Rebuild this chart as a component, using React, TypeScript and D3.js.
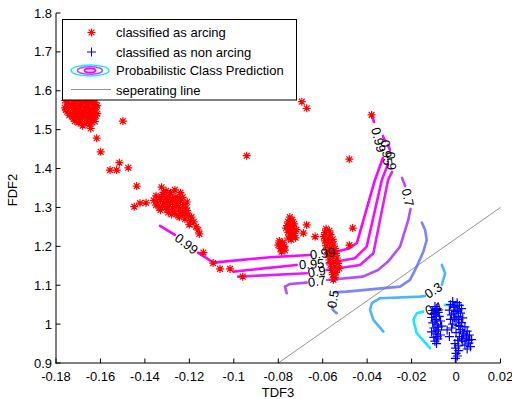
import React from 'react';
import * as d3 from 'd3';

type Pt = [number, number];

interface Contour {
  level: string;
  segments: Pt[][];
}

// axis ticks
const xTicks = [-0.18, -0.16, -0.14, -0.12, -0.1, -0.08, -0.06, -0.04, -0.02, 0, 0.02];
const yTicks = [0.9, 1.0, 1.1, 1.2, 1.3, 1.4, 1.5, 1.6, 1.7, 1.8];

// red asterisks
const arcingPoints: Pt[] = [
  // top-left cluster
  [-0.174, 1.586], [-0.168, 1.588], [-0.176, 1.575], [-0.173, 1.578], [-0.170, 1.576], [-0.167, 1.577],
  [-0.164, 1.574], [-0.175, 1.566], [-0.172, 1.568], [-0.169, 1.565], [-0.166, 1.567], [-0.163, 1.565],
  [-0.176, 1.556], [-0.173, 1.558], [-0.170, 1.555], [-0.167, 1.557], [-0.164, 1.555], [-0.162, 1.558],
  [-0.175, 1.546], [-0.172, 1.548], [-0.169, 1.545], [-0.166, 1.547], [-0.163, 1.545], [-0.174, 1.537],
  [-0.171, 1.538], [-0.168, 1.535], [-0.165, 1.537], [-0.162, 1.536], [-0.172, 1.528], [-0.169, 1.526],
  [-0.166, 1.529], [-0.163, 1.527], [-0.170, 1.518], [-0.167, 1.516], [-0.164, 1.519], [-0.168, 1.510],
  [-0.165, 1.512],
  [-0.1745, 1.571], [-0.1715, 1.572], [-0.1685, 1.570], [-0.1655, 1.571], [-0.1625, 1.570],
  [-0.1745, 1.561], [-0.1715, 1.562], [-0.1685, 1.560], [-0.1655, 1.561], [-0.1615, 1.562],
  [-0.1755, 1.551], [-0.1715, 1.552], [-0.1685, 1.550], [-0.1655, 1.551], [-0.1625, 1.550],
  [-0.1735, 1.541], [-0.1705, 1.542], [-0.1675, 1.540], [-0.1645, 1.541], [-0.1615, 1.541],
  [-0.1725, 1.532], [-0.1695, 1.531], [-0.1665, 1.533], [-0.1635, 1.532],
  [-0.1715, 1.522], [-0.1685, 1.521], [-0.1655, 1.523], [-0.1625, 1.521],
  // scattered down the slope
  [-0.1644, 1.503], [-0.1617, 1.478], [-0.1599, 1.443], [-0.1499, 1.522], [-0.1557, 1.396],
  [-0.1527, 1.396], [-0.1515, 1.415], [-0.1475, 1.402], [-0.1437, 1.355], [-0.1448, 1.302],
  [-0.1422, 1.311], [-0.1395, 1.312],
  // cluster near -0.13
  [-0.1325, 1.352], [-0.1305, 1.343], [-0.1265, 1.345], [-0.124, 1.338], [-0.135, 1.330], [-0.132, 1.333],
  [-0.129, 1.330], [-0.126, 1.328], [-0.123, 1.326], [-0.136, 1.318], [-0.133, 1.320], [-0.130, 1.317],
  [-0.127, 1.315], [-0.124, 1.318], [-0.121, 1.314], [-0.135, 1.306], [-0.132, 1.304], [-0.129, 1.307],
  [-0.126, 1.303], [-0.123, 1.300], [-0.133, 1.293], [-0.130, 1.295], [-0.127, 1.291], [-0.124, 1.289],
  [-0.121, 1.292], [-0.128, 1.282], [-0.125, 1.279], [-0.122, 1.283], [-0.119, 1.275], [-0.122, 1.270],
  [-0.118, 1.263], [-0.120, 1.256], [-0.117, 1.250], [-0.116, 1.242], [-0.1155, 1.232],
  [-0.1315, 1.338], [-0.1285, 1.338], [-0.1335, 1.325], [-0.1305, 1.324], [-0.1275, 1.322], [-0.1245, 1.322],
  [-0.1345, 1.312], [-0.1315, 1.311], [-0.1285, 1.312], [-0.1255, 1.310], [-0.1225, 1.308],
  [-0.1335, 1.299], [-0.1305, 1.300], [-0.1275, 1.298], [-0.1245, 1.296], [-0.1215, 1.298],
  [-0.1295, 1.287], [-0.1265, 1.285], [-0.1235, 1.284], [-0.1205, 1.280], [-0.1245, 1.275], [-0.1195, 1.266],
  // bottom run
  [-0.1137, 1.184], [-0.1093, 1.157], [-0.1062, 1.142], [-0.1017, 1.142], [-0.096, 1.122],
  // cluster near -0.075
  [-0.0748, 1.275], [-0.0738, 1.268], [-0.0756, 1.263], [-0.0728, 1.258], [-0.0748, 1.254], [-0.0765, 1.247],
  [-0.0738, 1.245], [-0.0718, 1.243], [-0.0755, 1.236], [-0.0728, 1.233], [-0.0745, 1.226], [-0.0722, 1.222],
  [-0.0742, 1.217], [-0.0795, 1.214], [-0.0780, 1.210], [-0.0800, 1.203], [-0.0772, 1.200], [-0.0790, 1.194],
  [-0.0770, 1.190], [-0.0785, 1.186],
  [-0.0742, 1.262], [-0.0760, 1.253], [-0.0733, 1.250], [-0.0748, 1.240], [-0.0735, 1.229], [-0.0755, 1.221],
  [-0.0785, 1.205], [-0.0778, 1.196],
  [-0.0672, 1.255], [-0.0687, 1.234], [-0.0634, 1.225],
  // cluster near -0.057
  [-0.0585, 1.245], [-0.0570, 1.240], [-0.0590, 1.235], [-0.0565, 1.230], [-0.0595, 1.225], [-0.0575, 1.222],
  [-0.0555, 1.218], [-0.0590, 1.214], [-0.0570, 1.210], [-0.0550, 1.206], [-0.0585, 1.202], [-0.0565, 1.198],
  [-0.0545, 1.194], [-0.0580, 1.190], [-0.0560, 1.186], [-0.0540, 1.182], [-0.0575, 1.178], [-0.0555, 1.174],
  [-0.0535, 1.170], [-0.0570, 1.165], [-0.0550, 1.160], [-0.0530, 1.156], [-0.0565, 1.152], [-0.0545, 1.147],
  [-0.0525, 1.143], [-0.0560, 1.138], [-0.0540, 1.133], [-0.0555, 1.127], [-0.0545, 1.120], [-0.0552, 1.114],
  [-0.0465, 1.247], [-0.048, 1.203],
  // isolated upper points
  [-0.0694, 1.572], [-0.0672, 1.555], [-0.0942, 1.433], [-0.048, 1.424], [-0.038, 1.538],
];

// blue plus markers
const nonArcingPoints: Pt[] = [
  [-0.0095, 1.045], [-0.0085, 1.040], [-0.0105, 1.035], [-0.0080, 1.030], [-0.0100, 1.025], [-0.0075, 1.020],
  [-0.0110, 1.017], [-0.0090, 1.012], [-0.0070, 1.008], [-0.0105, 1.003], [-0.0085, 0.998], [-0.0065, 0.995],
  [-0.0100, 0.990], [-0.0080, 0.985], [-0.0110, 0.980], [-0.0090, 0.975], [-0.0070, 0.972], [-0.0100, 0.966],
  [-0.0082, 0.962], [-0.0095, 0.956], [-0.0088, 0.950],
  [-0.0090, 1.037], [-0.0095, 1.028], [-0.0088, 1.020], [-0.0095, 1.008], [-0.0080, 0.992], [-0.0092, 0.982],
  [-0.0085, 0.968],
  [-0.0015, 1.058], [0.0005, 1.055], [-0.0025, 1.050], [0.0015, 1.048], [-0.0010, 1.043], [0.0025, 1.040],
  [-0.0030, 1.036], [0.0000, 1.033], [0.0020, 1.028], [-0.0020, 1.024], [0.0010, 1.020], [0.0030, 1.016],
  [-0.0025, 1.012], [0.0000, 1.008], [0.0025, 1.004], [-0.0015, 1.000], [0.0012, 0.996], [0.0040, 0.993],
  [-0.0020, 0.990], [0.0020, 0.986], [0.0050, 0.982], [0.0000, 0.978], [0.0035, 0.975], [0.0060, 0.972],
  [0.0015, 0.968], [0.0045, 0.964], [0.0070, 0.960], [0.0030, 0.956], [0.0058, 0.951], [0.0040, 0.946],
  [0.0065, 0.942], [0.0050, 0.936], [0.0008, 0.958], [-0.0005, 0.950], [0.0010, 0.944], [-0.0002, 0.938],
  [0.0012, 0.932], [0.0000, 0.925], [0.0006, 0.918], [-0.0003, 0.912], [-0.0040, 0.985], [-0.0030, 0.968],
  [-0.0005, 1.046], [0.0008, 1.036], [-0.0010, 1.028], [0.0012, 1.012], [-0.0008, 1.016], [0.0018, 0.994],
  [0.0030, 0.980], [0.0048, 0.970], [0.0055, 0.958], [0.0025, 0.962],
];

// probability contours; a label sits in each gap between segments
const contours: Contour[] = [
  {
    level: '0.99',
    segments: [
      [[-0.1332, 1.2524], [-0.1265, 1.2293]],
      [[-0.1161, 1.1838], [-0.1092, 1.1581], [-0.0837, 1.172], [-0.0657, 1.1779]],
      [[-0.0545, 1.1856], [-0.0482, 1.1946], [-0.0446, 1.2087], [-0.0365, 1.3707], [-0.0329, 1.4273]],
      [[-0.0369, 1.5198], [-0.0378, 1.5352]],
    ],
  },
  {
    level: '0.95',
    segments: [
      [[-0.1002, 1.135], [-0.0717, 1.1522]],
      [[-0.0582, 1.1566], [-0.0455, 1.1694], [-0.0402, 1.1992], [-0.0334, 1.3707], [-0.0306, 1.4118]],
      [[-0.0319, 1.4709], [-0.0329, 1.4838]],
    ],
  },
  {
    level: '0.9',
    segments: [
      [[-0.098, 1.1221], [-0.0672, 1.1308]],
      [[-0.0582, 1.1393], [-0.0432, 1.1522], [-0.0372, 1.1823], [-0.0306, 1.3707], [-0.0288, 1.3913]],
      [[-0.0297, 1.4478], [-0.0306, 1.4607]],
    ],
  },
  {
    level: '0.7',
    segments: [
      [[-0.0762, 1.0794], [-0.077, 1.0964], [-0.0747, 1.1033], [-0.0672, 1.1067]],
      [[-0.058, 1.1136], [-0.0419, 1.1221], [-0.0351, 1.1393], [-0.0306, 1.1607], [-0.0252, 1.1992],
        [-0.0215, 1.2679], [-0.0205, 1.2961]],
      [[-0.0229, 1.3553], [-0.0243, 1.3758]],
    ],
  },
  {
    level: '0.5',
    segments: [
      [[-0.0537, 1.028], [-0.0554, 1.0365], [-0.0559, 1.0468]],
      [[-0.0549, 1.0815], [-0.0492, 1.0835], [-0.0252, 1.0964], [-0.0207, 1.1136], [-0.0177, 1.1478],
        [-0.0147, 1.1864], [-0.0132, 1.2164], [-0.0139, 1.2421], [-0.0154, 1.2609]],
    ],
  },
  {
    level: '0.3',
    segments: [
      [[-0.0327, 0.9807], [-0.0372, 1.0108], [-0.0387, 1.0365], [-0.0379, 1.0537], [-0.0342, 1.0666],
        [-0.0162, 1.0707], [-0.014, 1.0725]],
      [[-0.0064, 1.1008], [-0.0049, 1.1308], [-0.0064, 1.1522]],
    ],
  },
  {
    level: '0.1',
    segments: [
      [[-0.0117, 0.938], [-0.0177, 0.9766], [-0.0192, 1.0108], [-0.0177, 1.028], [-0.0148, 1.0321]],
      [[-0.005, 1.0494], [0.0018, 1.0494]],
    ],
  },
];

const separatingLine: Pt[] = [[-0.08, 0.9], [0.02, 1.3]];

const legendLabels = [
  'classified as arcing',
  'classified as non arcing',
  'Probabilistic Class Prediction',
  'seperating line',
];

// MATLAB "cool" colormap
const levelColor: Record<string, string> = {
  '0.99': '#fc03ff',
  '0.95': '#f20dff',
  '0.9': '#e61aff',
  '0.7': '#b34dff',
  '0.5': '#7a85ff',
  '0.3': '#4db3ff',
  '0.1': '#1ae6ff',
};

const W = 512;
const H = 399;
const FONT = 'Arial, "Liberation Sans", sans-serif';

const starPath = 'M-4,0H4M0,-4V4M-2.9,-2.9L2.9,2.9M-2.9,2.9L2.9,-2.9';
const plusPath = 'M-4.5,0H4.5M0,-4.5V4.5';

const App: React.FC = () => {
  const x = d3.scaleLinear().domain([-0.18, 0.02]).range([56, 500.5]);
  const y = d3.scaleLinear().domain([0.9, 1.8]).range([363, 13]);
  const line = d3.line<Pt>().x(d => x(d[0])).y(d => y(d[1]));

  const fmt = (t: number, n: number) => String(+t.toFixed(n));

  // label between consecutive segments
  const labels = contours.flatMap(c =>
    c.segments.slice(0, -1).map((seg, i) => {
      const a = seg[seg.length - 1];
      const b = c.segments[i + 1][0];
      const ax = x(a[0]), ay = y(a[1]), bx = x(b[0]), by = y(b[1]);
      let ang = (Math.atan2(by - ay, bx - ax) * 180) / Math.PI;
      if (ang > 90) ang -= 180;
      if (ang < -90) ang += 180;
      return { text: c.level, cx: (ax + bx) / 2, cy: (ay + by) / 2, ang };
    })
  );

  return (
    <svg width={W} height={H} style={{ position: 'absolute', left: 0, top: 0, background: '#fff' }}
      fontFamily={FONT}>
      {/* contours */}
      {contours.map(c =>
        c.segments.map((seg, i) => (
          <path key={c.level + i} d={line(seg) || ''} fill="none" stroke={levelColor[c.level]}
            strokeWidth={2.6} strokeLinejoin="round" strokeLinecap="round" />
        ))
      )}

      {/* separating line */}
      <path d={line(separatingLine) || ''} stroke="#777" strokeWidth={0.8} fill="none" />

      {/* points */}
      {arcingPoints.map((p, i) => (
        <path key={'a' + i} d={starPath} transform={`translate(${x(p[0])},${y(p[1])})`}
          stroke="#ff0000" strokeWidth={1.2} fill="none" />
      ))}
      {nonArcingPoints.map((p, i) => (
        <path key={'n' + i} d={plusPath} transform={`translate(${x(p[0])},${y(p[1])})`}
          stroke="#0000ff" strokeWidth={1.2} fill="none" />
      ))}

      {/* contour labels */}
      {labels.map((l, i) => (
        <text key={'l' + i} transform={`translate(${l.cx},${l.cy}) rotate(${l.ang})`} textAnchor="middle"
          dominantBaseline="central" fontSize={13} fill="#000">
          {l.text}
        </text>
      ))}

      {/* axes */}
      <g stroke="#000" strokeWidth={1} fill="none">
        <line x1={56} y1={13} x2={56} y2={363.5} />
        <line x1={55.5} y1={363} x2={500.5} y2={363} />
        {xTicks.map(t => (
          <line key={'xt' + t} x1={x(t)} x2={x(t)} y1={363} y2={358.5} />
        ))}
        {yTicks.map(t => (
          <line key={'yt' + t} x1={56} x2={60.5} y1={y(t)} y2={y(t)} />
        ))}
      </g>
      <g fontSize={13} fill="#000">
        {xTicks.map(t => (
          <text key={'xl' + t} x={x(t)} y={381} textAnchor="middle">{fmt(t, 2)}</text>
        ))}
        {yTicks.map(t => (
          <text key={'yl' + t} x={52} y={y(t) + 4.5} textAnchor="end">{fmt(t, 1)}</text>
        ))}
        <text x={278} y={397} textAnchor="middle">TDF3</text>
        <text transform="translate(17,190) rotate(-90)" textAnchor="middle">FDF2</text>
      </g>

      {/* legend */}
      <g>
        <rect x={62.5} y={19.5} width={234} height={80.5} fill="#fff" stroke="#000" strokeWidth={1} />
        <path d={starPath} transform="translate(91.5,32.5)" stroke="#ff0000" fill="none" strokeWidth={1.2} />
        <path d={plusPath} transform="translate(91.5,52)" stroke="#0000ff" fill="none" strokeWidth={1} />
        <ellipse cx={90} cy={70.5} rx={19} ry={5.5} fill="none" stroke={levelColor['0.1']} strokeWidth={1.5} />
        <ellipse cx={90} cy={70.5} rx={12.5} ry={3.8} fill="none" stroke={levelColor['0.7']} strokeWidth={1.5} />
        <ellipse cx={90} cy={70.5} rx={5.5} ry={2} fill="none" stroke={levelColor['0.99']} strokeWidth={1.8} />
        <line x1={71} x2={111} y1={89.5} y2={89.5} stroke="#777" strokeWidth={0.8} />
        {legendLabels.map((s, i) => (
          <text key={s} x={116} y={[37, 56.5, 75, 94.5][i]} fontSize={13} fill="#000">{s}</text>
        ))}
      </g>
    </svg>
  );
};

export default App;
